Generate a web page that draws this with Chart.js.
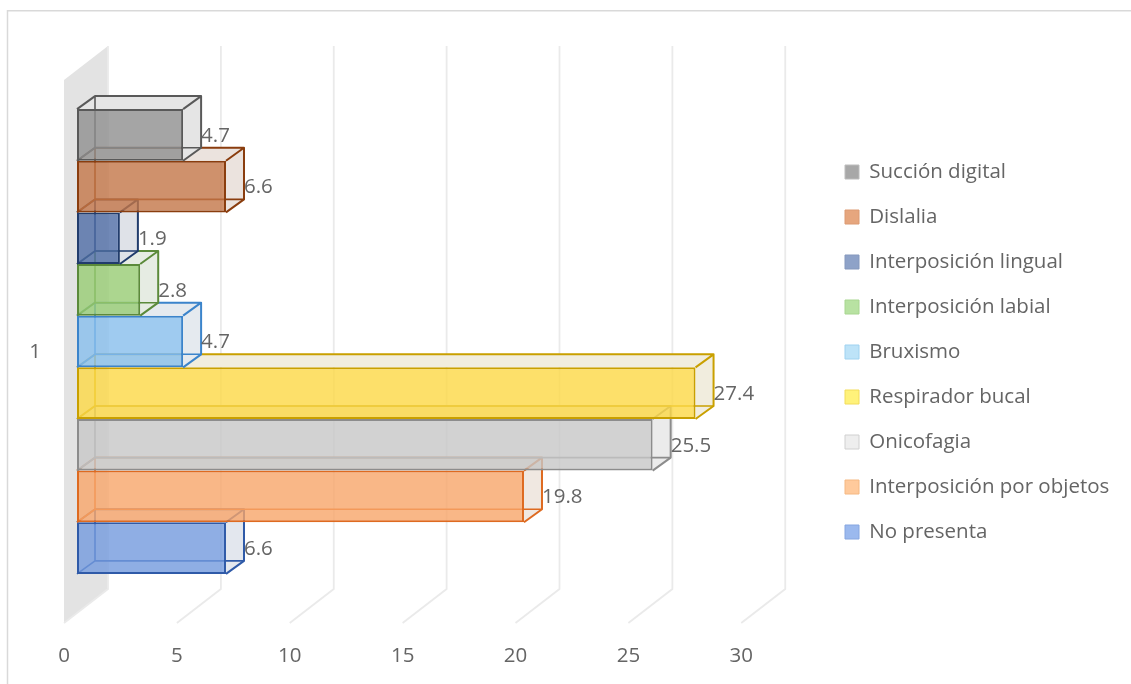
<!DOCTYPE html>
<html>
<head>
<meta charset="utf-8">
<script src="https://cdn.jsdelivr.net/npm/chart.js@4.4.1/dist/chart.umd.min.js"></script>
<style>
  html, body { margin: 0; padding: 0; background: #fff; }
  #wrap { position: relative; width: 1131px; height: 684px; }
</style>
</head>
<body>
<div id="wrap"><canvas id="chart"></canvas></div>
<script>
let categories = ['1']
let seriesNames = ['Succión digital',
                   'Dislalia',
                   'Interposición lingual',
                   'Interposición labial',
                   'Bruxismo',
                   'Respirador bucal',
                   'Onicofagia',
                   'Interposición por objetos',
                   'No presenta']
let seriesValues = [4.7, 6.6, 1.9, 2.8, 4.7, 27.4, 25.5, 19.8, 6.6]
let xTicks = [0, 5, 10, 15, 20, 25, 30]

// colours as they look on white, turned into translucent fills below
let faceColors = ['#a5a5a5', '#cf916c', '#7189b7', '#acd68f', '#9fcbf0', '#fde06a', '#d2d2d2', '#f9b787', '#8faee4']
let edgeColors = ['#595959', '#8a3d0e', '#213c6c', '#5b8a3a', '#3b84cb', '#c9a000', '#8c8c8c', '#de6a20', '#2f5aa8']
let legendFill = ['#a8a8a8', '#e6a67e', '#8ea2c8', '#b8e2a2', '#bde3f8', '#fff27a', '#eeeeee', '#ffca9c', '#9bb9ee']
let legendLine = ['#bdbdbd', '#dc9a72', '#8598bd', '#a8d690', '#9fd2f0', '#f2dc5a', '#d0d0d0', '#f5b882', '#86a6e0']

let textColor = '#656565'
let fontFamily = '"Open Sans", "Noto Sans", sans-serif'
let fontSize = 20.5

// depth of the boxes and of the wall, in pixels
let barDX = 18, barDY = -13
let frontDX = -13, frontDY = 10
let backDX = 31, backDY = -24

// legend text should start at x=869, plot (front plane) runs 77..754
let measure = document.createElement('canvas').getContext('2d')
measure.font = fontSize + 'px ' + fontFamily
let longest = Math.max(...seriesNames.map(n => measure.measureText(n).width))
let legendPad = 45 - fontSize
let legendLeft = 869 - legendPad - 14 - fontSize / 2
let padRight = Math.max(0, 1131 - 869 - longest - fontSize / 2)
let gapWidth = legendLeft - 754

let hex = h => [1, 3, 5].map(i => parseInt(h.substr(i, 2), 16))
let overWhite = (h, a) => {
    let c = hex(h).map(t => Math.max(0, Math.min(255, Math.round((t - (1 - a) * 255) / a))))
    return 'rgba(' + c.join(',') + ',' + a + ')'
}
let mix = (h1, h2, t) => {
    let a = hex(h1), b = hex(h2)
    return 'rgb(' + a.map((v, i) => Math.round(v * (1 - t) + b[i] * t)).join(',') + ')'
}

let datasets = seriesNames.map((name, i) => {
    return {
        label: name,
        data: [seriesValues[i]],
        backgroundColor: overWhite(faceColors[i], 0.8),
        borderColor: edgeColors[i],
        borderWidth: 2,
        borderSkipped: false,
        categoryPercentage: 0.856,
        barPercentage: 1,
        clip: false
    }
})

let poly = (ctx, pts) => {
    ctx.beginPath()
    ctx.moveTo(pts[0][0], pts[0][1])
    for (let k = 1; k < pts.length; k++) ctx.lineTo(pts[k][0], pts[k][1])
    ctx.closePath()
}

let boxOf = meta => {
    let el = meta.data[0]
    let p = el.getProps(['x', 'y', 'base', 'height'], true)
    return { x0: p.base, x1: p.x, yT: p.y - p.height / 2, yB: p.y + p.height / 2 }
}

let threeD = {
    id: 'threeD',
    beforeDraw(chart) {
        let ctx = chart.ctx
        ctx.save()
        ctx.fillStyle = '#fff'
        ctx.fillRect(0, 0, chart.width, chart.height)
        ctx.strokeStyle = '#d9d9d9'
        ctx.lineWidth = 1.5
        ctx.beginPath()
        ctx.moveTo(7.5, chart.height)
        ctx.lineTo(7.5, 10.75)
        ctx.lineTo(chart.width, 10.75)
        ctx.stroke()
        ctx.restore()
    },
    beforeDatasetsDraw(chart) {
        let ctx = chart.ctx
        let a = chart.chartArea
        let x = chart.scales.x
        ctx.save()
        // side wall
        ctx.fillStyle = '#e3e3e3'
        poly(ctx, [[a.left + frontDX, a.top + frontDY], [a.left + backDX, a.top + backDY],
                   [a.left + backDX, a.bottom + backDY], [a.left + frontDX, a.bottom + frontDY]])
        ctx.fill()
        // grid on the back wall and the floor
        ctx.strokeStyle = '#eaeaea'
        ctx.lineWidth = 1.8
        xTicks.forEach(v => {
            let px = x.getPixelForValue(v)
            ctx.beginPath()
            ctx.moveTo(px + backDX, a.top + backDY)
            ctx.lineTo(px + backDX, a.bottom + backDY)
            ctx.lineTo(px + frontDX, a.bottom + frontDY)
            ctx.stroke()
        })
        ctx.restore()
    },
    beforeDatasetDraw(chart, args) {
        let i = args.index
        let b = boxOf(args.meta)
        let ctx = chart.ctx
        let side = mix('#efefef', faceColors[i], 0.13)
        ctx.save()
        ctx.fillStyle = side
        poly(ctx, [[b.x0, b.yT], [b.x1, b.yT], [b.x1 + barDX, b.yT + barDY], [b.x0 + barDX, b.yT + barDY]])
        ctx.fill()
        poly(ctx, [[b.x1, b.yT], [b.x1 + barDX, b.yT + barDY], [b.x1 + barDX, b.yB + barDY], [b.x1, b.yB]])
        ctx.fill()
        // hidden edges, seen through the front face
        ctx.strokeStyle = edgeColors[i]
        ctx.lineWidth = 1.6
        ctx.beginPath()
        ctx.moveTo(b.x0 + barDX, b.yT + barDY)
        ctx.lineTo(b.x0 + barDX, b.yB + barDY)
        ctx.lineTo(b.x1 + barDX, b.yB + barDY)
        ctx.moveTo(b.x0 + barDX, b.yB + barDY)
        ctx.lineTo(b.x0, b.yB)
        ctx.stroke()
        ctx.restore()
    },
    afterDatasetDraw(chart, args) {
        let i = args.index
        let b = boxOf(args.meta)
        let ctx = chart.ctx
        ctx.save()
        ctx.strokeStyle = edgeColors[i]
        ctx.lineWidth = 2
        ctx.lineJoin = 'round'
        ctx.beginPath()
        ctx.moveTo(b.x0, b.yT)
        ctx.lineTo(b.x0 + barDX, b.yT + barDY)
        ctx.lineTo(b.x1 + barDX, b.yT + barDY)
        ctx.lineTo(b.x1 + barDX, b.yB + barDY)
        ctx.lineTo(b.x1, b.yB)
        ctx.moveTo(b.x1, b.yT)
        ctx.lineTo(b.x1 + barDX, b.yT + barDY)
        ctx.stroke()
        ctx.restore()
    },
    afterDatasetsDraw(chart) {
        let ctx = chart.ctx
        ctx.save()
        ctx.font = fontSize + 'px ' + fontFamily
        ctx.fillStyle = textColor
        ctx.textAlign = 'left'
        ctx.textBaseline = 'middle'
        chart.data.datasets.forEach((ds, i) => {
            let b = boxOf(chart.getDatasetMeta(i))
            ctx.fillText(String(ds.data[0]), b.x1 + barDX, (b.yT + b.yB) / 2 + 1)
        })
        ctx.restore()
    }
}

let ctx = document.getElementById('chart').getContext('2d')
let myChart = new Chart(ctx, {
    type: 'bar',
    data: {
        labels: categories,
        datasets: datasets
    },
    options: {
        indexAxis: 'y',
        responsive: true,
        maintainAspectRatio: false,
        animation: false,
        layout: { padding: { top: 20, bottom: 0, left: 0, right: padRight } },
        scales: {
            x: {
                min: 0,
                max: 30,
                afterBuildTicks: s => { s.ticks = xTicks.map(v => ({ value: v })) },
                afterFit: s => { s.height = 71 },
                grid: { display: false, drawTicks: false },
                border: { display: false },
                ticks: {
                    color: textColor,
                    font: { family: fontFamily, size: fontSize },
                    padding: 31,
                    labelOffset: frontDX
                }
            },
            gapTop: {
                type: 'linear',
                axis: 'x',
                position: 'top',
                afterFit: s => { s.height = 50 },
                grid: { display: false, drawTicks: false },
                border: { display: false },
                ticks: { display: false }
            },
            y: {
                afterFit: s => { s.width = 77 },
                grid: { display: false, drawTicks: false },
                border: { display: false },
                ticks: {
                    color: textColor,
                    font: { family: fontFamily, size: fontSize },
                    padding: 36,
                    labelOffset: 11
                }
            },
            gap: {
                type: 'category',
                axis: 'y',
                position: 'right',
                afterFit: s => { s.width = gapWidth },
                grid: { display: false, drawTicks: false },
                border: { display: false },
                ticks: { display: false }
            }
        },
        plugins: {
            tooltip: { enabled: false },
            legend: {
                position: 'right',
                align: 'center',
                maxWidth: 500,
                labels: {
                    boxWidth: 14,
                    boxHeight: 14,
                    padding: legendPad,
                    color: textColor,
                    font: { family: fontFamily, size: fontSize },
                    generateLabels: chart => chart.data.datasets.map((ds, i) => ({
                        text: ds.label,
                        fillStyle: legendFill[i],
                        strokeStyle: legendLine[i],
                        lineWidth: 1,
                        fontColor: textColor,
                        hidden: false,
                        datasetIndex: i
                    }))
                }
            }
        }
    },
    plugins: [threeD]
})
</script>
</body>
</html>
